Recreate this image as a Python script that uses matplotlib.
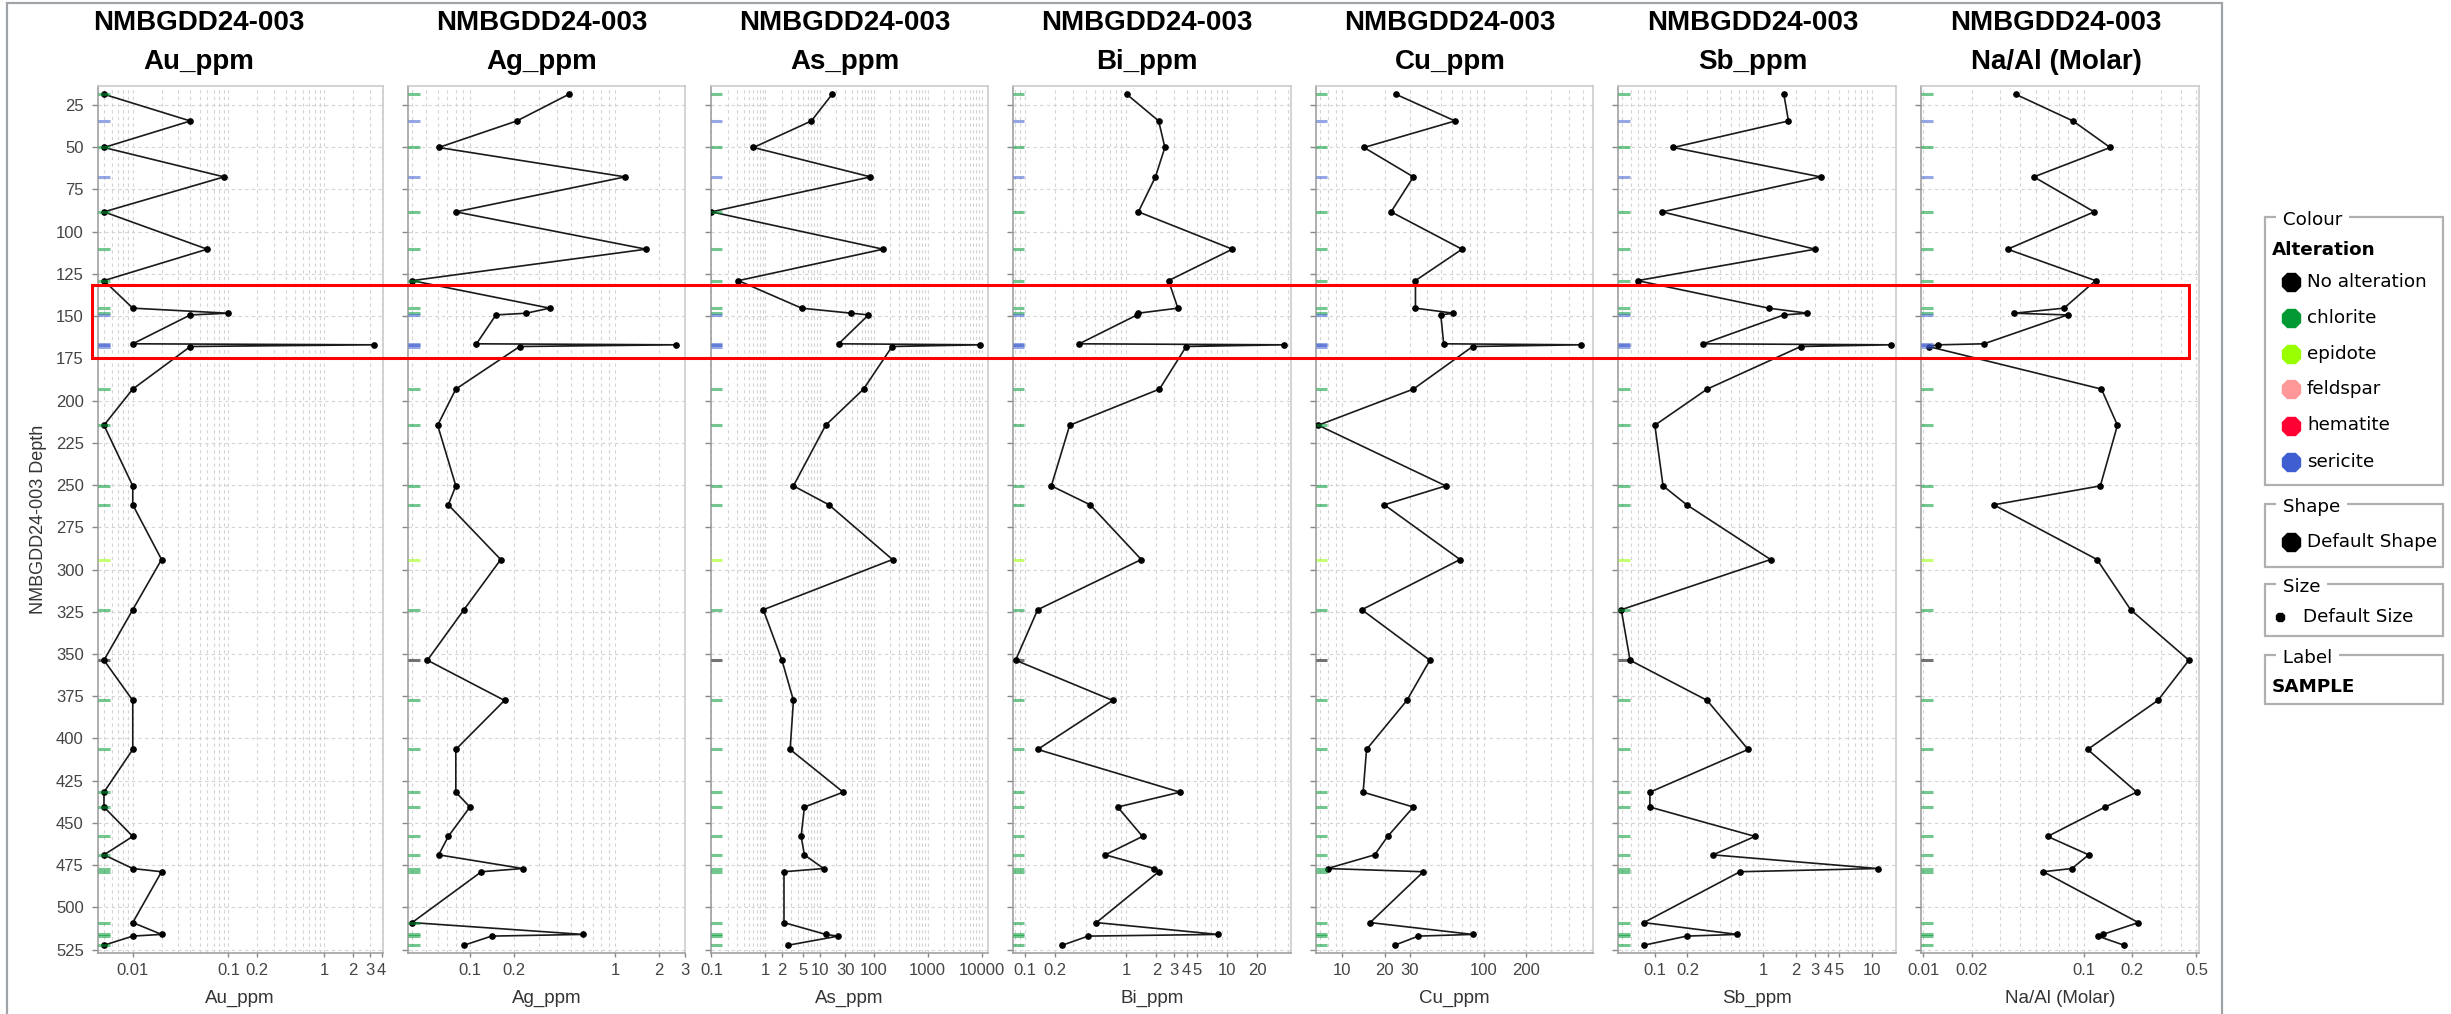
import numpy as np
import matplotlib.pyplot as plt
from matplotlib.patches import Rectangle
from matplotlib.lines import Line2D
from matplotlib.ticker import LogLocator, NullFormatter

# ---- data (hole NMBGDD24-003) ----
depth = [18.7, 34.5, 50.2, 67.6, 88.3, 110.4, 129.0, 145.3, 148.3, 149.3,
         166.4, 167.0, 168.0, 193.2, 214.6, 250.5, 261.7, 294.1, 323.8, 353.7,
         377.5, 406.5, 431.8, 440.6, 458.0, 468.9, 477.0, 478.9, 509.0, 516.0,
         517.0, 522.4]

alteration = ['chlorite', 'sericite', 'chlorite', 'sericite', 'chlorite', 'chlorite',
              'chlorite', 'chlorite', 'chlorite', 'sericite', 'sericite', 'sericite',
              'sericite', 'chlorite', 'chlorite', 'chlorite', 'chlorite', 'epidote',
              'chlorite', 'No alteration'] + ['chlorite'] * 12

au = [0.005, 0.04, 0.005, 0.09, 0.005, 0.06, 0.005, 0.01, 0.1, 0.04, 0.01, 3.3,
      0.04, 0.01, 0.005, 0.01, 0.01, 0.02, 0.01, 0.005, 0.01, 0.01, 0.005, 0.005,
      0.01, 0.005, 0.01, 0.02, 0.01, 0.02, 0.01, 0.005]
ag = [0.48, 0.21, 0.061, 1.17, 0.080, 1.63, 0.040, 0.354, 0.244, 0.151, 0.111, 2.63,
      0.22, 0.080, 0.060, 0.080, 0.071, 0.163, 0.091, 0.051, 0.173, 0.080, 0.080, 0.1,
      0.071, 0.061, 0.231, 0.12, 0.040, 0.60, 0.141, 0.091]
as_ = [17.1, 7.06, 0.60, 87.7, 0.1, 150, 0.315, 4.66, 38.8, 80.5, 22.6, 9250,
       220, 65.3, 13.0, 3.29, 14.9, 224, 0.91, 2.02, 3.29, 2.86, 27.4, 5.25,
       4.57, 5.25, 11.9, 2.2, 2.2, 13.0, 22.2, 2.62]
bi = [1.02, 2.11, 2.43, 1.96, 1.33, 11.3, 2.64, 3.27, 1.32, 1.29, 0.345, 36.8,
      3.95, 2.15, 0.278, 0.183, 0.443, 1.42, 0.134, 0.081, 0.74, 0.134, 3.43, 0.83,
      1.46, 0.625, 1.91, 2.11, 0.51, 8.15, 0.423, 0.235]
cu = [24.0, 62.8, 14.3, 31.9, 22.2, 70.3, 33.0, 33.0, 61.2, 49.8, 52.2, 485,
      83.6, 31.9, 6.8, 54.0, 19.9, 68.1, 13.8, 41.7, 28.7, 14.9, 14.1, 31.9,
      21.0, 17.0, 7.9, 37.5, 15.8, 83.6, 34.6, 23.5]
sb = [1.55, 1.71, 0.148, 3.38, 0.117, 3.01, 0.0694, 1.12, 2.56, 1.55, 0.279, 15.0,
      2.22, 0.304, 0.1, 0.119, 0.197, 1.17, 0.049, 0.059, 0.304, 0.725, 0.090, 0.090,
      0.84, 0.344, 11.4, 0.61, 0.079, 0.578, 0.197, 0.079]
naal = [0.0376, 0.0855, 0.1455, 0.0488, 0.1157, 0.0335, 0.118, 0.0751, 0.0368, 0.079,
        0.0239, 0.01245, 0.0108, 0.1284, 0.1615, 0.1264, 0.0275, 0.1206, 0.195, 0.449,
        0.288, 0.1054, 0.213, 0.1352, 0.0594, 0.107, 0.0841, 0.0558, 0.218, 0.131,
        0.122, 0.1775]

hole = "NMBGDD24-003"
columns = ["Au_ppm", "Ag_ppm", "As_ppm", "Bi_ppm", "Cu_ppm", "Sb_ppm", "Na/Al (Molar)"]
values = [au, ag, as_, bi, cu, sb, naal]
x_ticks = [[0.01, 0.1, 0.2, 1, 2, 3, 4],
           [0.1, 0.2, 1, 2, 3],
           [0.1, 1, 2, 5, 10, 30, 100, 1000, 10000],
           [0.1, 0.2, 1, 2, 3, 4, 5, 10, 20],
           [10, 20, 30, 100, 200],
           [0.1, 0.2, 1, 2, 3, 4, 5, 10],
           [0.01, 0.02, 0.1, 0.2, 0.5]]
x_limits = [(0.0043, 4.1), (0.0375, 3.02), (0.0965, 13100), (0.0757, 43),
            (6.5, 591), (0.0457, 16.8), (0.0097, 0.516)]
depth_ticks = list(range(25, 526, 25))

legend_names = ["No alteration", "chlorite", "epidote", "feldspar", "hematite", "sericite"]
legend_colours = ["#000000", "#009933", "#99ff00", "#ff9999", "#ff0033", "#3f5fd0"]
alt_colour = dict(zip(legend_names, legend_colours))

# ---- layout (pixel based) ----
W, H = 2451, 1014
fig = plt.figure(figsize=(W / 100, H / 100), dpi=100)


def fx(x):
    return x / W


def fy(y):
    return 1 - y / H


panel_edges = [(97.7, 382.7), (408, 685), (710.6, 988), (1012.6, 1291),
               (1315.5, 1593), (1618, 1896), (1921, 2198.6)]
title_centres = [199, 542, 845, 1147, 1450, 1753, 2056]
ax_top, ax_bottom = 86, 953

# outer chart frame
fig.add_artist(Rectangle((fx(7), fy(1020)), fx(2222) - fx(7), fy(3) - fy(1020),
                         transform=fig.transFigure, fill=False, edgecolor="#a0a4a8", lw=1.6))

tick_font = dict(family="Liberation Sans", size=12, color="#444444")
rug_colours = [alt_colour[a] for a in alteration]

for i, (name, vals) in enumerate(zip(columns, values)):
    left, right = panel_edges[i]
    ax = fig.add_axes([fx(left), fy(ax_bottom), fx(right) - fx(left), (ax_bottom - ax_top) / H])
    ax.set_xscale("log")

    # downhole profile
    ax.plot(vals, depth, color="#1a1a1a", lw=1.2, marker="o", markersize=3.8,
            markerfacecolor="black", markeredgecolor="black", zorder=3)

    # alteration rug along the left edge
    ax.hlines(depth, 0, 0.042, colors=rug_colours, lw=2.2, alpha=0.55,
              transform=ax.get_yaxis_transform(), zorder=4)

    ax.set_xlim(*x_limits[i])
    ax.set_ylim(527, 13.8)
    ax.set_xticks(x_ticks[i], [f"{t:g}" for t in x_ticks[i]])
    ax.xaxis.set_minor_locator(LogLocator(base=10, subs=np.arange(1, 10), numticks=60))
    ax.xaxis.set_minor_formatter(NullFormatter())
    ax.set_yticks(depth_ticks)
    ax.grid(True, which="both", axis="x", color="#d4d4d4", ls=(0, (3, 3)), lw=0.8)
    ax.grid(True, which="major", axis="y", color="#d4d4d4", ls=(0, (3, 3)), lw=0.8)
    ax.set_axisbelow(True)

    ax.tick_params(axis="x", which="major", length=3, width=1, color="#888888", pad=4)
    ax.tick_params(axis="x", which="minor", length=0)
    ax.tick_params(axis="y", length=4, width=1, color="#888888", pad=6,
                   labelleft=(i == 0))
    for lab in ax.get_xticklabels() + ax.get_yticklabels():
        lab.set_fontfamily(tick_font["family"])
        lab.set_fontsize(tick_font["size"])
        lab.set_color(tick_font["color"])

    for side in ["top", "right"]:
        ax.spines[side].set_color("#c8c8c8")
    for side in ["left", "bottom"]:
        ax.spines[side].set_color("#999999")
    for sp in ax.spines.values():
        sp.set_linewidth(1.1)

    ax.set_xlabel(name, family="Liberation Sans", fontsize=13.5, color="#333333", labelpad=9)

    cx = fx(title_centres[i])
    fig.text(cx, fy(23), hole, ha="center", va="center", family="Liberation Sans",
             weight="bold", fontsize=20)
    fig.text(cx, fy(62), name, ha="center", va="center", family="Liberation Sans",
             weight="bold", fontsize=20)

fig.text(fx(39), fy(519), f"{hole} Depth", rotation=90, ha="center", va="center",
         family="Liberation Sans", fontsize=13, color="#333333")

# red highlight box around the 130-172 m interval
fig.add_artist(Rectangle((fx(92), fy(358.3)), fx(2189) - fx(92), fy(285) - fy(358.3),
                         transform=fig.transFigure, fill=False, edgecolor="#ff0000",
                         lw=2.2, zorder=20))

# ---- legend panel ----
leg_font = dict(family="DejaVu Sans", fontsize=13.2, color="black")
box_left, box_right = 2265, 2443


def titled_box(top, bottom, title):
    fig.add_artist(Rectangle((fx(box_left), fy(bottom)), fx(box_right) - fx(box_left),
                             fy(top) - fy(bottom), transform=fig.transFigure, fill=False,
                             edgecolor="#b0b0b0", lw=1.6))
    fig.text(fx(2277), fy(top + 3), " " + title + " ", ha="left", va="center",
             bbox=dict(facecolor="white", edgecolor="none", pad=0.5), **leg_font)


def legend_marker(x, y, colour, size=14.5):
    fig.add_artist(Line2D([fx(x)], [fy(y)], marker="8", markersize=size, color=colour,
                          markeredgecolor=colour, linestyle="none",
                          transform=fig.transFigure))


titled_box(217, 485, "Colour")
fig.text(fx(2272), fy(250), "Alteration", ha="left", va="center", weight="bold", **leg_font)
entry_y = [282, 318, 354, 389, 425.5, 462]
for name, colour, y in zip(legend_names, legend_colours, entry_y):
    legend_marker(2291, y, colour)
    fig.text(fx(2307), fy(y), name, ha="left", va="center", **leg_font)

titled_box(504, 566.5, "Shape")
legend_marker(2291, 542, "black")
fig.text(fx(2307), fy(542), "Default Shape", ha="left", va="center", **leg_font)

titled_box(584, 636, "Size")
legend_marker(2280, 616.6, "black", size=7)
fig.text(fx(2303), fy(616.6), "Default Size", ha="left", va="center", **leg_font)

titled_box(654.6, 704, "Label")
fig.text(fx(2272), fy(687), "SAMPLE", ha="left", va="center", weight="bold", **leg_font)

fig.savefig("out.png", dpi=100)
